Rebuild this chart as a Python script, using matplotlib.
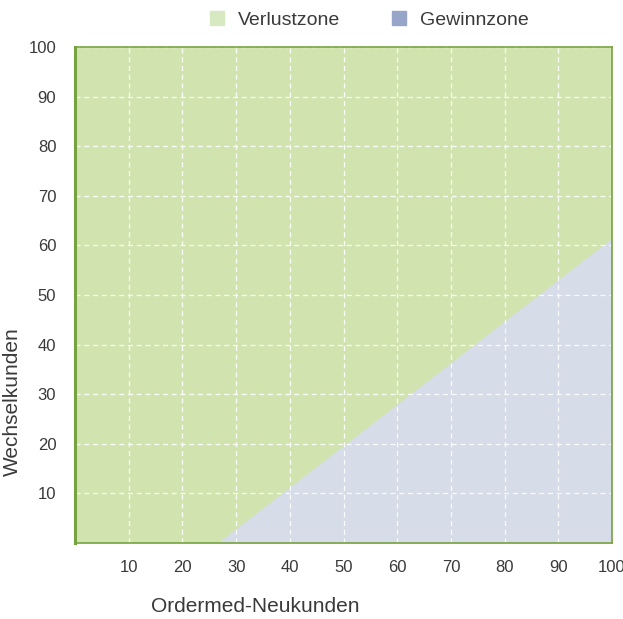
import matplotlib.pyplot as plt
import matplotlib.patches as patches
import numpy as np

# Break-even line: Wechselkunden needed per Ordermed-Neukunden count
breakeven_x = [26.5, 100]
breakeven_y = [0, 61.5]

x_ticks = [10, 20, 30, 40, 50, 60, 70, 80, 90, 100]
y_ticks = [10, 20, 30, 40, 50, 60, 70, 80, 90, 100]

zone_labels = ['Verlustzone', 'Gewinnzone']

loss_fill = '#d1e4b0'
gain_fill = '#d6dce8'
loss_legend = '#d6e9c0'
gain_legend = '#97a6c8'
spine_color = '#76a33f'
text_color = '#3a3a3a'

plt.rcParams['font.family'] = ['Liberation Sans', 'DejaVu Sans']

fig = plt.figure(figsize=(6.23, 6.19), dpi=100)
ax = fig.add_axes([0.1204, 0.1228, 0.862, 0.801])

# Whole area is loss zone, profit zone drawn below the break-even line
ax.fill_between([0, 100], 0, 100, color=loss_fill, linewidth=0, zorder=0)
ax.fill_between([breakeven_x[0], breakeven_x[1], breakeven_x[1]],
                [0, breakeven_y[1], 0], 0,
                color=gain_fill, linewidth=0, zorder=1)

ax.set_xlim(0, 100)
ax.set_ylim(0, 100)

ax.set_xticks(x_ticks)
ax.set_yticks(y_ticks)
ax.tick_params(axis='both', length=0, labelsize=12, colors=text_color)
ax.tick_params(axis='x', pad=12)
ax.tick_params(axis='y', pad=13.5)

ax.grid(True, color='white', linestyle=(0, (4, 3)), linewidth=0.9, alpha=0.9)
for line in ax.get_xgridlines() + ax.get_ygridlines():
    line.set_zorder(2)

for side in ['top', 'right', 'bottom', 'left']:
    ax.spines[side].set_color(spine_color)
    ax.spines[side].set_linewidth(1.2)
    ax.spines[side].set_zorder(3)
ax.spines['left'].set_linewidth(2.2)

ax.set_xlabel('Ordermed-Neukunden', fontsize=15, color=text_color)
ax.xaxis.set_label_coords(0.335, -0.109)
ax.set_ylabel('Wechselkunden', fontsize=15, color=text_color)
ax.yaxis.set_label_coords(-0.0987, 0.286)

handles = [patches.Patch(color=loss_legend, label=zone_labels[0]),
           patches.Patch(color=gain_legend, label=zone_labels[1])]
leg = fig.legend(handles=handles, loc='center', bbox_to_anchor=(0.593, 0.968),
                 ncol=2, frameon=False, fontsize=14, handlelength=0.72,
                 handleheight=0.72, handletextpad=0.72, columnspacing=2.66,
                 borderpad=0, borderaxespad=0)
for t in leg.get_texts():
    t.set_color(text_color)

plt.savefig('out.png', dpi=100)
plt.close()
